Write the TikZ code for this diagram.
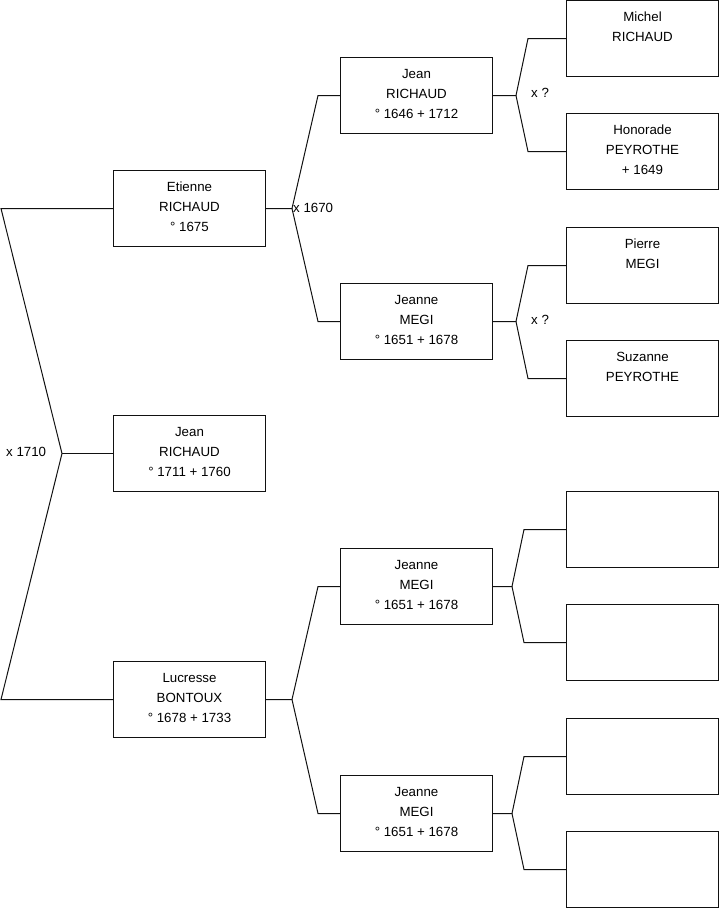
\documentclass[tikz,border=0pt]{standalone}
\usepackage{fontspec}
\setmainfont{Liberation Sans}
\usepackage{tikz}
\usetikzlibrary{positioning,calc}
\definecolor{gline}{HTML}{111111}
\tikzset{
  person/.style={draw=gline,fill=white,line width=1pt,minimum width=152pt,minimum height=76pt,align=center,font=\fontsize{13.3}{20}\selectfont,inner sep=0pt,text depth=4pt},
  link/.style={draw=gline,line width=1pt},
  lbl/.style={font=\fontsize{13.3}{15}\selectfont,inner sep=0pt,anchor=west},
}
% #1 child, #2 father, #3 mother, #4 stem, #5 arm
\newcommand{\fork}[5]{%
  \draw[link] (#1.east) -- ++(#4,0) coordinate (#1-j) -- ($(#2.west)+(-#5,0)$) -- (#2.west);
  \draw[link] (#1-j) -- ($(#3.west)+(-#5,0)$) -- (#3.west);
}

\begin{document}
\begin{tikzpicture}[x=1pt,y=-1pt]
\useasboundingbox (0,0) rectangle (719,908);

% generation 1 and 2
\node[person] (jean) at (189.5,453.5) {Jean\\RICHAUD\\° 1711 + 1760};
\node[person] (etienne) at (189.5,208.5) {Etienne\\RICHAUD\\° 1675};
\node[person] (lucresse) at (189.5,699.5) {Lucresse\\BONTOUX\\° 1678 + 1733};

% generation 3
\node[person] (jeanR) at (416.5,95.5) {Jean\\RICHAUD\\° 1646 + 1712};
\node[person] (jeanneM) at (416.5,321.5) {Jeanne\\MEGI\\° 1651 + 1678};
\node[person] (jeanneA) at (416.5,586.5) {Jeanne\\MEGI\\° 1651 + 1678};
\node[person] (jeanneB) at (416.5,813.5) {Jeanne\\MEGI\\° 1651 + 1678};

% generation 4
\node[person] (michel) at (642.5,38.5) {Michel\\RICHAUD\\\mbox{}};
\node[person] (honorade) at (642.5,151.5) {Honorade\\PEYROTHE\\+ 1649};
\node[person] (pierre) at (642.5,265.5) {Pierre\\MEGI\\\mbox{}};
\node[person] (suzanne) at (642.5,378.5) {Suzanne\\PEYROTHE\\\mbox{}};
\node[person] (e1) at (642.5,529.5) {};
\node[person] (e2) at (642.5,642.5) {};
\node[person] (e3) at (642.5,756.5) {};
\node[person] (e4) at (642.5,869.5) {};

% links
\coordinate (root) at (62,453.5);
\draw[link] (jean.west) -- (root);
\draw[link] (etienne.west) -- (1,208.5) -- (root) -- (1,699.5) -- (lucresse.west);
\node[lbl] (m0) at (6,452) {x 1710};

\fork{etienne}{jeanR}{jeanneM}{26}{22}
\fork{lucresse}{jeanneA}{jeanneB}{26}{22}
\fork{jeanR}{michel}{honorade}{23}{38}
\fork{jeanneM}{pierre}{suzanne}{23}{38}
\fork{jeanneA}{e1}{e2}{19}{42}
\fork{jeanneB}{e3}{e4}{19}{42}

\node[lbl] (m1) at ($(etienne-j)+(1,-0.5)$) {x 1670};
\node[lbl] (m2) at (531,93) {x ?};
\node[lbl] (m3) at (531,320) {x ?};
\end{tikzpicture}
\end{document}
